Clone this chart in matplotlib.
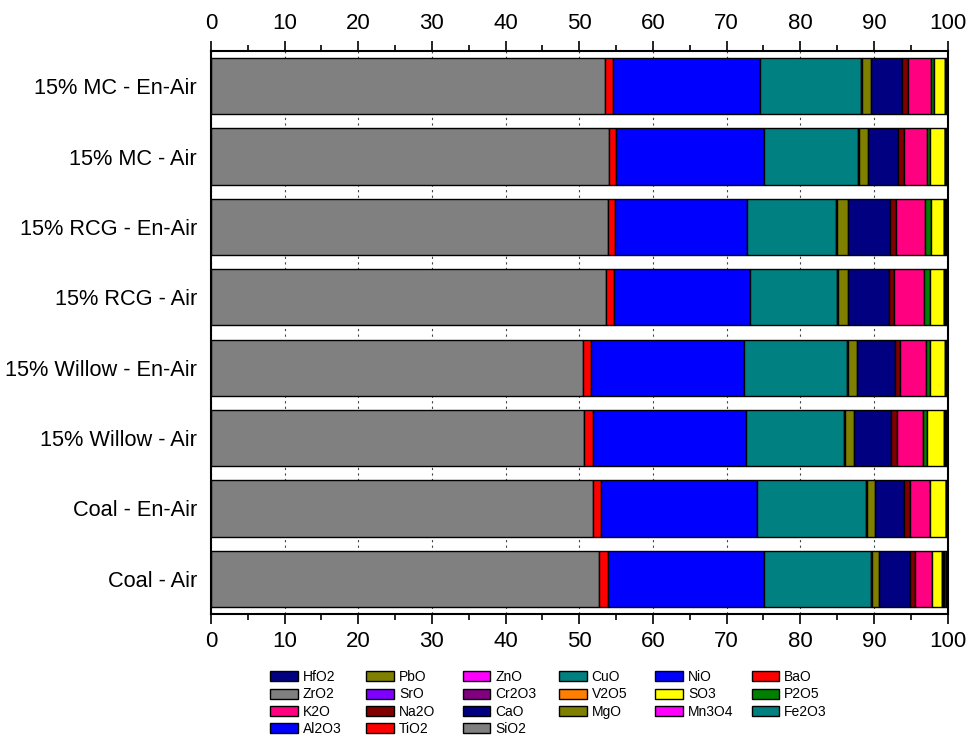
import matplotlib.pyplot as plt
import numpy as np

plt.rcParams['font.family'] = ['Liberation Sans', 'DejaVu Sans']

# samples, top to bottom
samples = ['15% MC - En-Air', '15% MC - Air', '15% RCG - En-Air', '15% RCG - Air',
           '15% Willow - En-Air', '15% Willow - Air', 'Coal - En-Air', 'Coal - Air']

# oxide contents (wt%), one value per sample
sio2 = [53.5, 54.0, 53.9, 53.7, 50.5, 50.7, 51.9, 52.7]
tio2 = [1.1, 1.0, 1.0, 1.05, 1.15, 1.15, 1.1, 1.15]
al2o3 = [19.9, 20.1, 17.9, 18.5, 20.7, 20.85, 21.1, 21.2]
fe2o3 = [13.8, 12.8, 12.1, 11.75, 14.0, 13.3, 14.9, 14.6]
mn3o4 = [0.1, 0.1, 0.1, 0.2, 0.1, 0.1, 0.1, 0.1]
mgo = [1.2, 1.2, 1.5, 1.3, 1.25, 1.15, 1.0, 1.0]
cao = [4.2, 4.1, 5.7, 5.6, 5.2, 5.1, 4.0, 4.2]
na2o = [0.8, 0.8, 0.8, 0.7, 0.7, 0.75, 0.8, 0.7]
k2o = [3.1, 3.1, 4.0, 4.0, 3.5, 3.6, 2.7, 2.2]
p2o5 = [0.4, 0.4, 0.8, 0.8, 0.5, 0.45, 0.05, 0.1]
so3 = [1.6, 2.0, 1.7, 1.9, 2.1, 2.4, 2.1, 1.3]
v2o5 = [0.02, 0.02, 0.03, 0.03, 0.02, 0.03, 0.02, 0.05]
cr2o3 = [0.03, 0.03, 0.04, 0.04, 0.03, 0.04, 0.02, 0.06]
sro = [0.05, 0.05, 0.06, 0.06, 0.05, 0.06, 0.04, 0.10]
zro2 = [0.05, 0.05, 0.07, 0.07, 0.05, 0.06, 0.04, 0.12]
bao = [0.08, 0.08, 0.12, 0.12, 0.08, 0.10, 0.06, 0.18]
nio = [0.02, 0.02, 0.03, 0.03, 0.02, 0.03, 0.02, 0.06]
cuo = [0.03, 0.03, 0.04, 0.04, 0.03, 0.04, 0.02, 0.06]
zno = [0.02, 0.02, 0.06, 0.06, 0.02, 0.05, 0.02, 0.08]
pbo = [0.0, 0.0, 0.02, 0.02, 0.0, 0.02, 0.01, 0.02]
hfo2 = [0.0, 0.0, 0.01, 0.01, 0.0, 0.01, 0.0, 0.02]

names = ['SiO2', 'TiO2', 'Al2O3', 'Fe2O3', 'Mn3O4', 'MgO', 'CaO', 'Na2O', 'K2O',
         'P2O5', 'SO3', 'V2O5', 'Cr2O3', 'SrO', 'ZrO2', 'BaO', 'NiO', 'CuO',
         'ZnO', 'PbO', 'HfO2']
series = [sio2, tio2, al2o3, fe2o3, mn3o4, mgo, cao, na2o, k2o, p2o5, so3,
          v2o5, cr2o3, sro, zro2, bao, nio, cuo, zno, pbo, hfo2]
colors = ['#808080', '#FF0000', '#0000FF', '#008080', '#FF00FF', '#808000',
          '#000080', '#800000', '#FF0080', '#008000', '#FFFF00', '#FF8000',
          '#800080', '#8000FF', '#808080', '#FF0000', '#0000FF', '#008080',
          '#FF00FF', '#808000', '#000080']

fig = plt.figure(figsize=(9.74, 7.41), dpi=100)
ax = fig.add_axes([0.2166, 0.1714, 0.7562, 0.7598])

y = np.arange(len(samples))
left = np.zeros(len(samples))
handles = []
for name, vals, c in zip(names, series, colors):
    vals = np.array(vals)
    b = ax.barh(y, vals, left=left, height=0.8, color=c, edgecolor='black',
                linewidth=1.0, label=name, zorder=2)
    handles.append(b)
    left += vals

ax.set_xlim(0, 100)
ax.set_ylim(-0.5, 7.5)
ax.invert_yaxis()
ax.set_yticks(y)
ax.set_yticklabels(samples)
ax.set_xticks(np.arange(0, 101, 10))
ax.set_xticks(np.arange(5, 100, 10), minor=True)

ax.tick_params(axis='x', which='both', top=True, labeltop=True, direction='out',
               labelsize=16, width=1.2, pad=5)
ax.tick_params(axis='x', which='major', length=7)
ax.tick_params(axis='x', which='minor', length=4)
ax.tick_params(axis='y', length=0, labelsize=15.7, pad=10)
for s in ax.spines.values():
    s.set_linewidth(1.5)

ax.set_axisbelow(True)
ax.grid(axis='x', which='major', color='#444444', linestyle=(0, (2, 3)),
        linewidth=0.8, zorder=0)

# legend: reversed order, filled row by row in 6 columns
rev = list(range(len(names)))[::-1]
ncols = 6
x0, dx, ytop = 270 / 974, 96.3 / 974, 0.0955
for j in range(ncols):
    idx = rev[j::ncols]
    fig.legend([handles[i] for i in idx], [names[i] for i in idx],
               loc='upper left', bbox_to_anchor=(x0 + j * dx, ytop),
               ncol=1, frameon=False, fontsize=10, handlelength=2.0,
               handleheight=0.72, handletextpad=0.36, labelspacing=0.235,
               borderpad=0, borderaxespad=0)

plt.savefig('out.png', dpi=100)
